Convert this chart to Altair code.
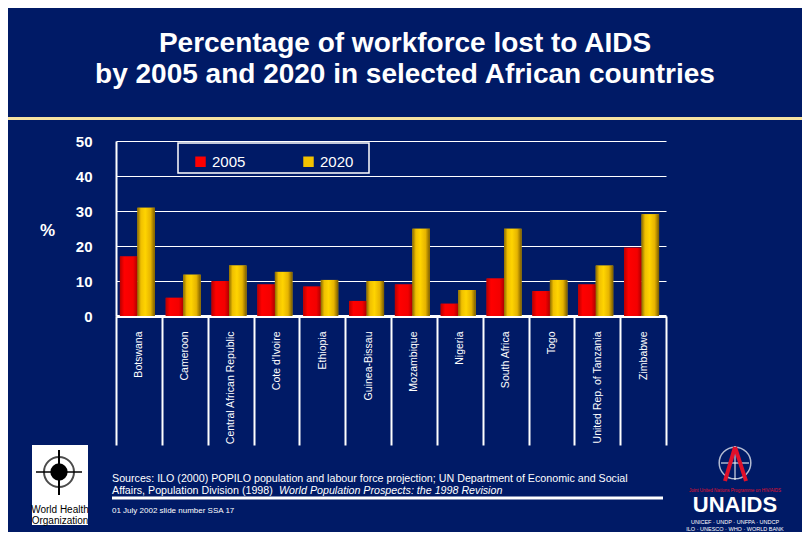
import altair as alt
import pandas as pd

countries = ["Botswana", "Cameroon", "Central African Republic", "Cote d'Ivoire",
             "Ethiopia", "Guinea-Bissau", "Mozambique", "Nigeria", "South Africa",
             "Togo", "United Rep. of Tanzania", "Zimbabwe"]
pct_2005 = [17.0, 5.2, 10.0, 9.0, 8.4, 4.3, 9.0, 3.5, 10.7, 7.1, 9.0, 19.5]
pct_2020 = [30.9, 11.8, 14.4, 12.6, 10.3, 10.0, 24.9, 7.4, 24.9, 10.3, 14.4, 29.1]
series = ["2005", "2020"]
y_ticks = [0, 10, 20, 30, 40, 50]

title_lines = ["Percentage of workforce lost to AIDS",
               "by 2005 and 2020 in selected African countries"]
source_line1 = ("Sources:  ILO (2000) POPILO population and labour force projection;  "
                "UN Department of Economic and Social")
source_line2a = "Affairs, Population Division (1998) "
source_line2b = "World Population Prospects: the 1998 Revision"
footer = "01 July 2002 slide number SSA 17"

NAVY = "#001a66"
FONT = "Liberation Sans"

rows = []
for c, a, b in zip(countries, pct_2005, pct_2020):
    rows.append({"country": c, "series": "2005", "value": a})
    rows.append({"country": c, "series": "2020", "value": b})
df = pd.DataFrame(rows)

one = alt.Data(values=[{"k": 1}])


def txt(s, x, y, size, color="white", weight="normal", align="left",
        style="normal", baseline="alphabetic", font=FONT, opacity=1):
    return alt.Chart(one).mark_text(
        text=s, fontSize=size, color=color, fontWeight=weight, align=align,
        fontStyle=style, baseline=baseline, font=font, opacity=opacity
    ).encode(x=alt.value(x), y=alt.value(y))


def rect(x, x2, y, y2, **kw):
    return alt.Chart(one).mark_rect(**kw).encode(
        x=alt.value(x), x2=alt.value(x2), y=alt.value(y), y2=alt.value(y2))


def rule(x, x2, y, y2, **kw):
    return alt.Chart(one).mark_rule(**kw).encode(
        x=alt.value(x), x2=alt.value(x2), y=alt.value(y), y2=alt.value(y2))


def circ(x, y, size, **kw):
    return alt.Chart(one).mark_point(shape="circle", size=size, **kw).encode(
        x=alt.value(x), y=alt.value(y))


x_enc = alt.X(
    "country:N", sort=countries, title=None,
    scale=alt.Scale(paddingInner=0, paddingOuter=0),
    axis=alt.Axis(labelAngle=-90, labelColor="white", labelFont=FONT,
                  labelFontSize=10.5, labelPadding=-114, domainColor="white",
                  domainWidth=3, tickColor="white", tickWidth=2, tickSize=129,
                  tickBand="extent", grid=False, labelLimit=300),
)
y_enc = alt.Y(
    "value:Q", scale=alt.Scale(domain=[0, 50], nice=False),
    axis=alt.Axis(values=y_ticks, title="%", titleAngle=0, titleX=-69, titleY=89,
                  titleColor="white", titleFontSize=17, titleFontWeight="bold",
                  titleFont=FONT, titleAlign="center", titleBaseline="middle",
                  labelColor="white", labelFontSize=15, labelFontWeight="bold",
                  labelFont=FONT, labelPadding=24, ticks=False,
                  domainColor="white", domainWidth=2, gridColor="white",
                  gridWidth=1, gridOpacity=1),
)
xo_enc = alt.XOffset("series:N", sort=series,
                     scale=alt.Scale(domain=series, paddingInner=0,
                                     paddingOuter=0.31, align=0.36))

base = alt.Chart(df).encode(x=x_enc, y=y_enc, xOffset=xo_enc)

solid = base.mark_bar().encode(
    color=alt.Color(
        "series:N", scale=alt.Scale(domain=series, range=["#ff0000", "#f2c200"]),
        legend=alt.Legend(title=None, orient="none", legendX=77, legendY=13,
                          direction="horizontal", labelColor="white",
                          labelFontSize=15, labelFont=FONT, symbolType="square",
                          symbolSize=110, labelOffset=4, columnPadding=55,
                          symbolStrokeWidth=0, padding=0),
    )
)

red_grad = alt.Gradient(gradient="linear", x1=0, x2=1, y1=0, y2=0, stops=[
    alt.GradientStop(offset=0, color="#b80000"),
    alt.GradientStop(offset=0.25, color="#ff0000"),
    alt.GradientStop(offset=0.75, color="#f40000"),
    alt.GradientStop(offset=1, color="#b00000"),
])
gold_grad = alt.Gradient(gradient="linear", x1=0, x2=1, y1=0, y2=0, stops=[
    alt.GradientStop(offset=0, color="#8a6a00"),
    alt.GradientStop(offset=0.2, color="#f0c000"),
    alt.GradientStop(offset=0.45, color="#ffd400"),
    alt.GradientStop(offset=0.75, color="#e6b400"),
    alt.GradientStop(offset=1, color="#7a5c00"),
])

bars_2005 = base.transform_filter(alt.datum.series == "2005").mark_bar(color=red_grad)
bars_2020 = base.transform_filter(alt.datum.series == "2020").mark_bar(color=gold_grad)

layers = [
    rect(-108, 686, -24, -21, color="#f7e3a1"),
    rect(62, 253, 2, 32, fill=NAVY, stroke="white", strokeWidth=1.5),
    solid, bars_2005, bars_2020,
    # title
    txt(title_lines[0], 289, -89, 28, weight="bold", align="center"),
    txt(title_lines[1], 289, -58, 28, weight="bold", align="center"),
    # sources
    txt(source_line1, -4, 341, 10.7),
    txt(source_line2a, -4, 353, 10.7),
    txt(source_line2b, 163, 353, 10.7, style="italic"),
    rule(-4, 547, 357, 357, color="white", strokeWidth=3),
    txt(footer, -4, 372, 8),
    # WHO logo
    rect(-84, -28, 304, 384, color="white"),
    circ(-57, 331, 900, filled=False, stroke="black", strokeWidth=2),
    circ(-57, 331, 300, filled=True, color="black", opacity=1),
    rule(-57, -57, 309, 354, color="black", strokeWidth=2),
    rule(-80, -34, 331, 331, color="black", strokeWidth=1.5),
    txt("World Health", -56, 369, 10, color="black", align="center", baseline="middle"),
    txt("Organization", -56, 380, 10, color="black", align="center", baseline="middle"),
    # UNAIDS logo
    circ(619, 322, 1000, filled=False, stroke="white", strokeWidth=1.5),
    rule(605, 633, 322, 322, color="white", strokeWidth=1),
    rule(619, 619, 305, 339, color="white", strokeWidth=1),
    rule(619, 609, 306, 340, color="#e0102a", strokeWidth=4),
    rule(619, 630, 306, 340, color="#e0102a", strokeWidth=4),
    txt("Joint United Nations Programme on HIV/AIDS", 619, 351, 4.5, color="#e0102a", align="center"),
    txt("UNAIDS", 619, 371, 22, weight="bold", align="center"),
    txt("UNICEF · UNDP · UNFPA · UNDCP", 619, 383, 5.5, align="center"),
    txt("ILO · UNESCO · WHO · WORLD BANK", 619, 390, 5.5, align="center"),
]

chart = alt.layer(*layers).properties(
    width=550, height=175,
    autosize=alt.AutoSizeParams(type="none"),
    padding={"left": 108, "top": 133, "right": 136, "bottom": 216},
    background=NAVY,
).configure_view(stroke=None)

chart.save("out.html", embed_options={"renderer": "svg", "actions": False})
